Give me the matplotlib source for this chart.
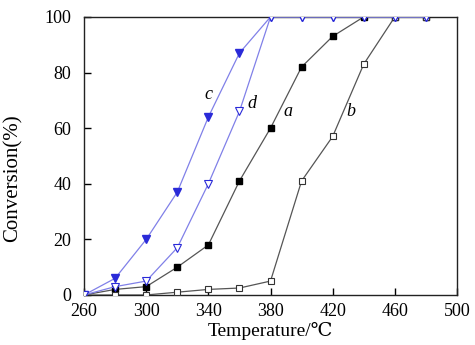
import numpy as np
import matplotlib
matplotlib.use("Agg")
import matplotlib.pyplot as plt

plt.rcParams['font.family'] = ['Liberation Serif', 'DejaVu Serif']

temp = np.array([260, 280, 300, 320, 340, 360, 380, 400, 420, 440, 460, 480])

conv_a = np.array([0, 2, 3, 10, 18, 41, 60, 82, 93, 100, 100, 100])
conv_b = np.array([0, 0, 0, 1, 2, 2.5, 5, 41, 57, 83, 100, 100])
conv_c = np.array([0, 6, 20, 37, 64, 87, 100, 100, 100, 100, 100, 100])
conv_d = np.array([0, 3, 5, 17, 40, 66, 100, 100, 100, 100, 100, 100])

labels = ["a", "b", "c", "d"]
label_pos = [(391, 66), (432, 66), (340, 72), (368, 69)]

fig = plt.figure(figsize=(4.75, 3.45), dpi=100)
ax = fig.add_axes([0.177, 0.145, 0.785, 0.806])

gray = "#555555"
blue = "#2a2ad8"
lblue = "#8080e8"

ax.plot(temp, conv_a, color=gray, lw=0.9, marker="s", ms=4.5,
        mfc="black", mec="black", zorder=3)
ax.plot(temp, conv_b, color=gray, lw=0.9, marker="s", ms=4.5,
        mfc="white", mec="#333333", mew=0.8, zorder=3)
ax.plot(temp, conv_c, color=lblue, lw=0.9, marker="v", ms=5.5,
        mfc=blue, mec=blue, zorder=4)
ax.plot(temp, conv_d, color=lblue, lw=0.9, marker="v", ms=5.5,
        mfc="white", mec=blue, mew=0.8, zorder=4)

for lab, (x, y) in zip(labels, label_pos):
    ax.text(x, y, lab, fontsize=13, style="italic", ha="center", va="center")

ax.set_xlim(260, 500)
ax.set_ylim(0, 100)
ax.set_xticks(np.arange(260, 501, 40))
ax.set_yticks(np.arange(0, 101, 20))
ax.tick_params(direction="in", length=5, width=1, labelsize=13)
ax.tick_params(axis="x", pad=6)
ax.tick_params(axis="y", pad=9)

for s in ax.spines.values():
    s.set_linewidth(1.0)
    s.set_color("#222222")

ax.set_xlabel("Temperature/\u2103", fontsize=14, labelpad=1)
ax.set_ylabel("Conversion(%)", fontsize=15)
ax.yaxis.set_label_coords(-0.165, 0.42)

fig.savefig("out.png", dpi=100)
